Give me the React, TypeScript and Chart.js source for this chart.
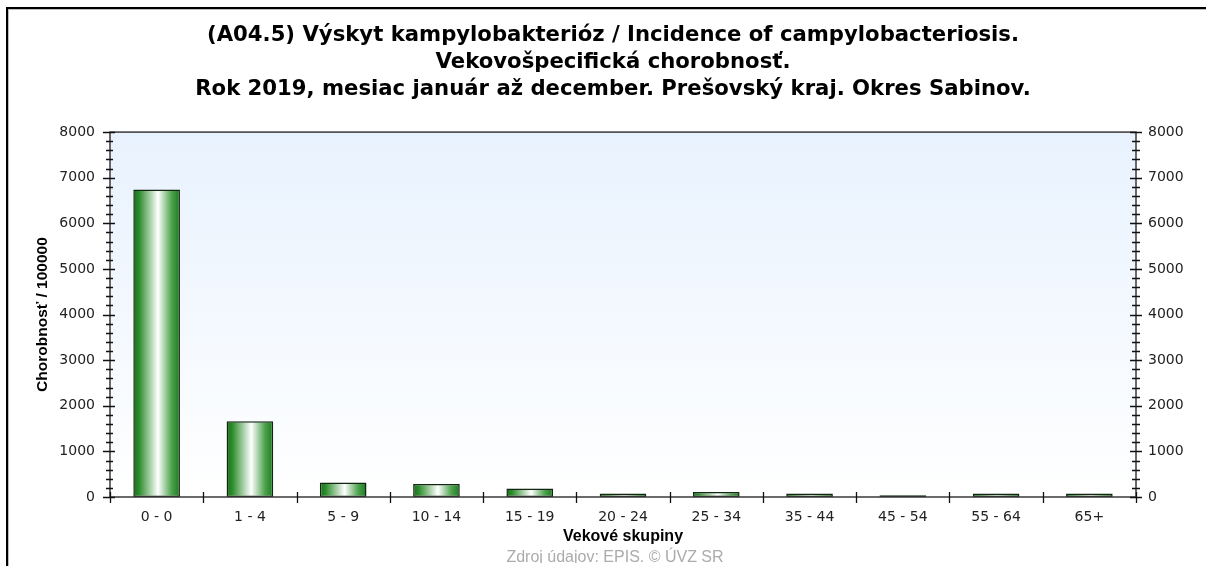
import React, { useEffect, useRef } from "react";
import { Chart, registerables } from "chart.js";

Chart.register(...registerables);

// ---------- data ----------
const titleLines = [
  "(A04.5) Výskyt kampylobakterióz / Incidence of campylobacteriosis.",
  "Vekovošpecifická chorobnosť.",
  "Rok 2019, mesiac január až december. Prešovský kraj. Okres Sabinov.",
];
const ageGroups = ["0 - 0", "1 - 4", "5 - 9", "10 - 14", "15 - 19", "20 - 24", "25 - 34", "35 - 44", "45 - 54", "55 - 64", "65+"];
const incidence = [6740, 1660, 316, 285, 184, 75, 110, 75, 40, 75, 75];
const yMin = 0;
const yMax = 8000;
const yMajorStep = 1000;
const yMinorStep = 200;
const yAxisTitle = "Chorobnosť / 100000";
const xAxisTitle = "Vekové skupiny";
const sourceNote = "Zdroj údajov: EPIS. © ÚVZ SR";

// ---------- styles ----------
const W = 1206;
const H = 566;
const BAR_PCT = 0.5;
const TICK_FONT = "'DejaVu Sans', Verdana, sans-serif";
const ARIAL = "'Liberation Sans', Arial, sans-serif";
const BIG_TITLE_FONT = "'DejaVu Sans', Verdana, sans-serif";

const barFill = (ctx: any) => {
  const chart = ctx.chart;
  const xs = chart.scales && chart.scales.x;
  if (!xs || ctx.dataIndex === undefined || !chart.chartArea) return "#2e8b2e";
  const c = xs.getPixelForValue(ctx.dataIndex);
  const half = ((xs.right - xs.left) / ageGroups.length) * BAR_PCT / 2;
  const g = chart.ctx.createLinearGradient(c - half, 0, c + half, 0);
  g.addColorStop(0, "#187018");
  g.addColorStop(0.12, "#2b8c2b");
  g.addColorStop(0.53, "#ffffff");
  g.addColorStop(0.82, "#4ea34e");
  g.addColorStop(1, "#1b7a1b");
  return g;
};

const decorPlugin = {
  id: "decor",
  beforeDraw(chart: any) {
    const { ctx, chartArea: a } = chart;
    ctx.save();
    ctx.fillStyle = "#ffffff";
    ctx.fillRect(0, 0, W, H);
    // outer frame (top + left)
    ctx.fillStyle = "#000";
    ctx.fillRect(6, 7, W - 6, 2);
    ctx.fillRect(6, 7, 2, H - 7);
    ctx.fillStyle = "#bdbdbd";
    ctx.fillRect(8, 9, W - 8, 1);
    ctx.fillRect(8, 9, 1, H - 9);
    // plot background gradient
    const g = ctx.createLinearGradient(0, a.top, 0, a.bottom);
    g.addColorStop(0, "#e8f2fe");
    g.addColorStop(1, "#ffffff");
    ctx.fillStyle = g;
    ctx.fillRect(a.left, a.top, a.right - a.left, a.bottom - a.top);
    ctx.restore();
  },
  afterDraw(chart: any) {
    const { ctx, chartArea: a, scales } = chart;
    const ys = scales.y;
    const xs = scales.x;
    ctx.save();
    // plot border / axis lines
    ctx.strokeStyle = "#3a3a3a";
    ctx.lineWidth = 1.5;
    ctx.strokeRect(a.left, a.top, a.right - a.left, a.bottom - a.top);
    // y ticks (left and right), crossing the axis
    ctx.strokeStyle = "#111";
    ctx.lineWidth = 1.3;
    ctx.beginPath();
    for (let v = yMin; v <= yMax; v += yMinorStep) {
      const py = Math.round(ys.getPixelForValue(v)) + 0.5;
      const major = v % yMajorStep === 0;
      const l = major ? 7 : 4;
      const r = major ? 5 : 3;
      ctx.moveTo(a.left - l, py);
      ctx.lineTo(a.left + r, py);
      ctx.moveTo(a.right - (major ? 6 : 4), py);
      ctx.lineTo(a.right + (major ? 6 : 4), py);
    }
    // x ticks at category boundaries
    const n = ageGroups.length;
    for (let i = 0; i <= n; i++) {
      let px: number;
      if (i === 0) px = xs.getPixelForValue(0) - (xs.getPixelForValue(1) - xs.getPixelForValue(0)) / 2;
      else if (i === n) px = xs.getPixelForValue(n - 1) + (xs.getPixelForValue(n - 1) - xs.getPixelForValue(n - 2)) / 2;
      else px = (xs.getPixelForValue(i - 1) + xs.getPixelForValue(i)) / 2;
      px = Math.round(px) + 0.5;
      ctx.moveTo(px, a.bottom - 5);
      ctx.lineTo(px, a.bottom + 6);
    }
    ctx.stroke();
    // source note (cut off at bottom like the original)
    ctx.beginPath();
    ctx.rect(0, 0, W, 563);
    ctx.clip();
    ctx.fillStyle = "#ababab";
    ctx.font = "16px 'Liberation Sans', Arial, sans-serif";
    ctx.textAlign = "center";
    ctx.textBaseline = "alphabetic";
    ctx.fillText(sourceNote, 615, 562);
    ctx.restore();
  },
};

export default function App() {
  const ref = useRef<HTMLCanvasElement | null>(null);

  useEffect(() => {
    if (!ref.current) return;
    const chart = new Chart(ref.current, {
      type: "bar",
      data: {
        labels: ageGroups,
        datasets: [
          {
            label: "Chorobnosť",
            data: incidence,
            backgroundColor: barFill,
            borderColor: "#122612",
            borderWidth: 1.5,
            borderSkipped: false,
            categoryPercentage: 1,
            barPercentage: BAR_PCT,
            yAxisID: "y",
          },
        ],
      },
      options: {
        responsive: false,
        maintainAspectRatio: false,
        animation: false,
        layout: { padding: { left: 20, right: 0, top: 0, bottom: 20 } },
        plugins: {
          legend: { display: false },
          tooltip: { enabled: false },
          title: {
            display: true,
            text: titleLines,
            color: "#000",
            font: { family: BIG_TITLE_FONT, size: 21.2, weight: "bold", lineHeight: 1.275 },
            padding: { top: 22, bottom: 29 },
          },
        },
        scales: {
          x: {
            type: "category",
            offset: true,
            grid: { display: false, drawTicks: false },
            border: { display: false },
            ticks: {
              color: "#222",
              font: { family: TICK_FONT, size: 14 },
              padding: 12,
              maxRotation: 0,
              autoSkip: false,
            },
            title: {
              display: true,
              text: xAxisTitle,
              color: "#000",
              font: { family: ARIAL, size: 16, weight: "bold" },
              padding: { top: 0, bottom: 0 },
            },
            afterFit: (s: any) => {
              s.height = 49;
            },
          },
          y: {
            position: "left",
            min: yMin,
            max: yMax,
            grid: { display: false, drawTicks: false },
            border: { display: false },
            ticks: {
              stepSize: yMajorStep,
              color: "#222",
              font: { family: TICK_FONT, size: 14 },
              padding: 15,
              callback: (v: any) => String(v),
            },
            title: {
              display: true,
              text: yAxisTitle,
              color: "#000",
              font: { family: ARIAL, size: 15.5, weight: "bold" },
              padding: { top: 13, bottom: 0 },
            },
            afterFit: (s: any) => {
              s.width = 90;
            },
          },
          y2: {
            position: "right",
            min: yMin,
            max: yMax,
            grid: { display: false, drawTicks: false },
            border: { display: false },
            ticks: {
              stepSize: yMajorStep,
              color: "#222",
              font: { family: TICK_FONT, size: 14 },
              padding: 12,
              callback: (v: any) => String(v),
            },
            afterFit: (s: any) => {
              s.width = 70;
            },
          },
        },
      },
      plugins: [decorPlugin],
    } as any);
    return () => chart.destroy();
  }, []);

  return (
    <div style={{ position: "absolute", left: 0, top: 0, width: W, height: H, background: "#fff" }}>
      <canvas ref={ref} width={W} height={H} style={{ display: "block" }} />
    </div>
  );
}
